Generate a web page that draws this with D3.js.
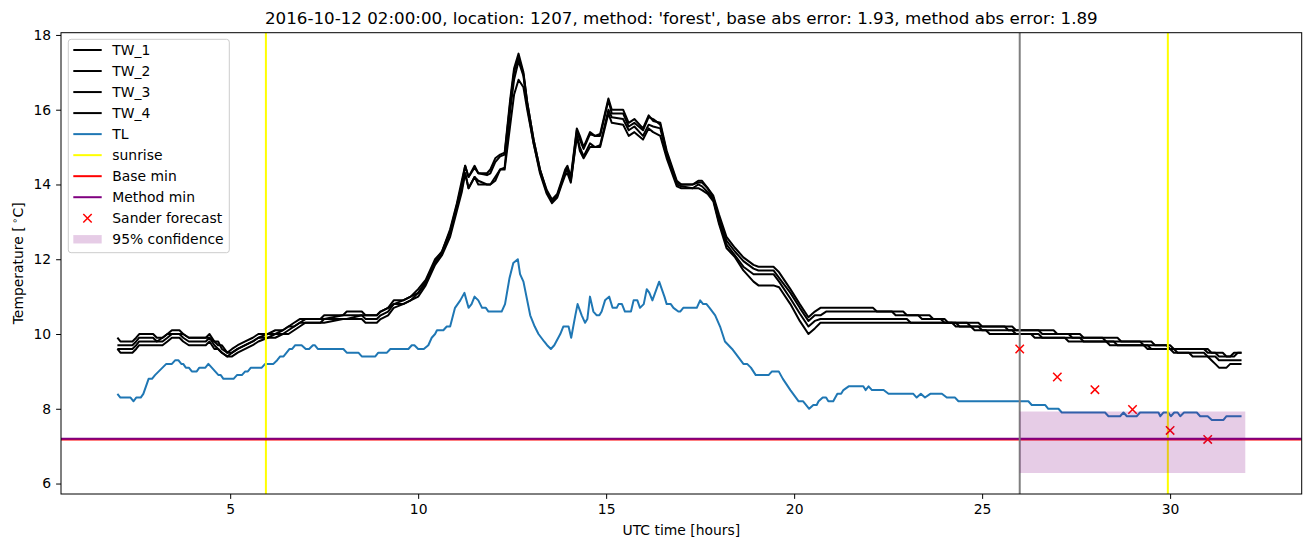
<!DOCTYPE html>
<html><head><meta charset="utf-8">
<script src="https://cdn.jsdelivr.net/npm/d3@7"></script>
<style>body{margin:0;background:#fff}svg{display:block}text{font-family:"DejaVu Sans",sans-serif;fill:#000}</style>
</head><body><svg id="c" width="1311" height="547"></svg>
<script>
const TITLE = "2016-10-12 02:00:00, location: 1207, method: 'forest', base abs error: 1.93, method abs error: 1.89";
const X_LABEL = "UTC time [hours]";
const X_TICKS = [5, 10, 15, 20, 25, 30];
const Y_TICKS = [6, 8, 10, 12, 14, 16, 18];

// [hour, °C]
const TW_1 = [[2.0,9.9],[2.08,9.8],[2.4,9.8],[2.5,9.9],[2.58,10.0],[2.95,10.0],[3.05,9.9],[3.2,9.9],[3.33,10.0],[3.45,10.1],[3.65,10.1],[3.75,10.0],[3.9,9.9],[4.35,9.9],[4.45,10.0],[4.58,9.8],[4.68,9.7],[4.78,9.7],[4.92,9.5],[5.05,9.6],[5.2,9.7],[5.4,9.8],[5.6,9.9],[5.75,10.0],[6.0,10.0],[6.2,10.1],[6.4,10.1],[6.55,10.2],[6.7,10.3],[6.85,10.4],[7.0,10.4],[7.4,10.4],[7.5,10.5],[8.0,10.5],[8.1,10.6],[8.5,10.6],[8.6,10.5],[8.9,10.5],[9.0,10.6],[9.2,10.7],[9.35,10.9],[9.6,10.9],[9.8,11.0],[10.0,11.2],[10.2,11.45],[10.45,12.0],[10.63,12.2],[10.85,12.8],[11.03,13.5],[11.16,14.1],[11.25,14.5],[11.34,14.2],[11.5,14.5],[11.6,14.3],[11.83,14.3],[11.92,14.4],[12.05,14.7],[12.18,14.8],[12.3,14.85],[12.45,16.3],[12.55,17.1],[12.67,17.5],[12.8,17.0],[12.9,16.2],[13.07,15.2],[13.24,14.4],[13.42,13.85],[13.56,13.6],[13.7,13.75],[13.8,14.05],[13.91,14.4],[13.97,14.5],[14.06,14.2],[14.22,15.5],[14.3,15.3],[14.4,15.0],[14.57,15.4],[14.7,15.3],[14.84,15.35],[15.06,16.3],[15.15,16.0],[15.45,16.0],[15.6,15.65],[15.75,15.75],[15.98,15.5],[16.13,15.85],[16.25,15.7],[16.44,15.65],[16.61,14.9],[16.88,14.1],[17.0,14.0],[17.3,14.0],[17.45,14.1],[17.55,14.1],[17.7,13.9],[17.85,13.7],[18.0,13.2],[18.2,12.6],[18.43,12.3],[18.65,12.05],[18.92,11.85],[19.05,11.8],[19.45,11.8],[19.6,11.65],[19.9,11.2],[20.15,10.8],[20.38,10.45],[20.55,10.6],[20.7,10.7],[22.1,10.7],[22.2,10.6],[22.9,10.6],[23.0,10.5],[23.6,10.5],[23.7,10.4],[24.0,10.4],[24.1,10.3],[24.6,10.3],[24.7,10.2],[25.6,10.2],[25.7,10.1],[26.5,10.1],[26.6,10.0],[27.6,10.0],[27.7,9.9],[28.6,9.9],[28.7,9.8],[29.5,9.8],[29.6,9.7],[29.9,9.7],[30.0,9.6],[31.0,9.6],[31.1,9.5],[31.4,9.5],[31.5,9.4],[31.7,9.4],[31.8,9.5],[31.9,9.5]];
const TW_2 = [[2.0,9.7],[2.08,9.7],[2.4,9.7],[2.5,9.8],[2.58,9.9],[2.95,9.9],[3.05,9.8],[3.2,9.9],[3.33,10.0],[3.45,10.0],[3.65,10.0],[3.75,10.0],[3.9,9.9],[4.35,9.9],[4.45,9.9],[4.58,9.8],[4.68,9.8],[4.78,9.6],[4.92,9.5],[5.05,9.5],[5.2,9.6],[5.4,9.7],[5.6,9.8],[5.75,9.9],[6.0,10.0],[6.2,10.0],[6.4,10.1],[6.55,10.2],[6.7,10.2],[6.85,10.3],[7.0,10.4],[7.4,10.4],[7.5,10.4],[8.0,10.5],[8.1,10.5],[8.5,10.5],[8.6,10.5],[8.9,10.5],[9.0,10.6],[9.2,10.7],[9.35,10.8],[9.6,10.9],[9.8,11.0],[10.0,11.1],[10.2,11.4],[10.45,11.95],[10.63,12.2],[10.85,12.75],[11.03,13.45],[11.16,14.0],[11.25,14.5],[11.34,14.2],[11.5,14.45],[11.6,14.3],[11.83,14.25],[11.92,14.3],[12.05,14.6],[12.18,14.75],[12.3,14.8],[12.45,16.2],[12.55,17.0],[12.67,17.4],[12.8,16.95],[12.9,16.2],[13.07,15.2],[13.24,14.4],[13.42,13.8],[13.56,13.55],[13.7,13.7],[13.8,14.0],[13.91,14.35],[13.97,14.45],[14.06,14.15],[14.22,15.45],[14.3,15.2],[14.4,14.95],[14.57,15.35],[14.7,15.3],[14.84,15.3],[15.06,16.25],[15.15,15.9],[15.45,15.9],[15.6,15.55],[15.75,15.65],[15.98,15.45],[16.13,15.8],[16.25,15.75],[16.44,15.6],[16.61,14.85],[16.88,14.05],[17.0,14.0],[17.3,14.0],[17.45,14.05],[17.55,14.05],[17.7,13.9],[17.85,13.65],[18.0,13.1],[18.2,12.5],[18.43,12.2],[18.65,11.95],[18.92,11.75],[19.05,11.7],[19.45,11.7],[19.6,11.5],[19.9,11.1],[20.15,10.7],[20.38,10.35],[20.55,10.5],[20.7,10.5],[20.85,10.6],[22.6,10.6],[22.7,10.5],[23.3,10.5],[23.4,10.4],[23.9,10.4],[24.0,10.3],[24.9,10.3],[25.0,10.2],[25.8,10.2],[25.9,10.1],[26.9,10.1],[27.0,10.0],[27.3,10.0],[27.4,9.9],[28.2,9.9],[28.3,9.8],[29.2,9.8],[29.3,9.7],[30.0,9.7],[30.1,9.6],[30.9,9.6],[31.0,9.5],[31.2,9.5],[31.3,9.4],[31.6,9.4],[31.7,9.5],[31.9,9.5]];
const TW_3 = [[2.0,9.6],[2.08,9.6],[2.4,9.6],[2.5,9.7],[2.58,9.8],[2.95,9.8],[3.05,9.8],[3.2,9.8],[3.33,9.9],[3.45,10.0],[3.65,10.0],[3.75,9.9],[3.9,9.8],[4.35,9.8],[4.45,9.9],[4.58,9.7],[4.68,9.6],[4.78,9.5],[4.92,9.4],[5.05,9.5],[5.2,9.6],[5.4,9.7],[5.6,9.8],[5.75,9.9],[6.0,9.9],[6.2,10.0],[6.4,10.0],[6.55,10.1],[6.7,10.2],[6.85,10.3],[7.0,10.3],[7.4,10.3],[7.5,10.4],[8.0,10.4],[8.1,10.4],[8.5,10.5],[8.6,10.4],[8.9,10.4],[9.0,10.5],[9.2,10.6],[9.35,10.8],[9.6,10.8],[9.8,10.9],[10.0,11.1],[10.2,11.35],[10.45,11.9],[10.63,12.15],[10.85,12.7],[11.03,13.4],[11.16,13.9],[11.25,14.3],[11.34,13.9],[11.5,14.2],[11.6,14.1],[11.83,14.0],[11.92,14.0],[12.05,14.2],[12.18,14.4],[12.3,14.45],[12.45,16.0],[12.55,16.8],[12.67,17.3],[12.8,16.9],[12.9,16.1],[13.07,15.1],[13.24,14.35],[13.42,13.8],[13.56,13.55],[13.7,13.7],[13.8,14.0],[13.91,14.3],[13.97,14.4],[14.06,14.1],[14.22,15.3],[14.3,15.0],[14.4,14.75],[14.57,15.1],[14.7,15.0],[14.84,15.05],[15.06,16.0],[15.15,15.8],[15.45,15.75],[15.6,15.45],[15.75,15.55],[15.98,15.3],[16.13,15.6],[16.25,15.55],[16.44,15.5],[16.61,14.8],[16.88,14.0],[17.0,13.95],[17.3,13.9],[17.45,14.0],[17.55,13.95],[17.7,13.8],[17.85,13.6],[18.0,13.0],[18.2,12.4],[18.43,12.1],[18.65,11.8],[18.92,11.6],[19.05,11.6],[19.45,11.6],[19.6,11.4],[19.9,10.95],[20.15,10.55],[20.38,10.2],[20.55,10.35],[20.7,10.4],[23.0,10.4],[23.1,10.3],[24.3,10.3],[24.4,10.2],[24.9,10.2],[25.0,10.1],[25.8,10.1],[25.9,10.0],[26.5,10.0],[26.6,9.9],[27.6,9.9],[27.7,9.8],[28.5,9.8],[28.6,9.7],[29.3,9.7],[29.4,9.6],[30.0,9.6],[30.1,9.5],[30.9,9.5],[31.0,9.4],[31.2,9.4],[31.3,9.3],[31.9,9.3]];
const TW_4 = [[2.0,9.6],[2.08,9.5],[2.4,9.5],[2.5,9.6],[2.58,9.7],[2.95,9.7],[3.05,9.7],[3.2,9.7],[3.33,9.8],[3.45,9.9],[3.65,9.9],[3.75,9.8],[3.9,9.7],[4.35,9.7],[4.45,9.8],[4.58,9.6],[4.68,9.6],[4.78,9.5],[4.92,9.4],[5.05,9.4],[5.2,9.5],[5.4,9.6],[5.6,9.7],[5.75,9.8],[6.0,9.9],[6.2,9.9],[6.4,10.0],[6.55,10.0],[6.7,10.1],[6.85,10.2],[7.0,10.3],[7.4,10.3],[7.5,10.3],[8.0,10.4],[8.1,10.4],[8.5,10.4],[8.6,10.3],[8.9,10.3],[9.0,10.4],[9.2,10.5],[9.35,10.7],[9.6,10.8],[9.8,10.9],[10.0,11.0],[10.2,11.3],[10.45,11.85],[10.63,12.1],[10.85,12.6],[11.03,13.3],[11.16,13.8],[11.25,14.3],[11.34,13.9],[11.5,14.2],[11.6,14.0],[11.83,14.0],[11.92,14.0],[12.05,14.1],[12.18,14.4],[12.3,14.4],[12.45,15.6],[12.55,16.4],[12.67,16.8],[12.8,16.6],[12.9,16.0],[13.07,15.1],[13.24,14.3],[13.42,13.75],[13.56,13.5],[13.7,13.65],[13.8,13.95],[13.91,14.25],[13.97,14.3],[14.06,14.05],[14.22,15.3],[14.3,14.9],[14.4,14.7],[14.57,15.0],[14.7,15.0],[14.84,15.0],[15.06,15.9],[15.15,15.65],[15.45,15.6],[15.6,15.3],[15.75,15.4],[15.98,15.2],[16.13,15.5],[16.25,15.4],[16.44,15.3],[16.61,14.7],[16.88,13.95],[17.0,13.9],[17.3,13.9],[17.45,13.9],[17.55,13.85],[17.7,13.75],[17.85,13.55],[18.0,12.95],[18.2,12.3],[18.43,12.05],[18.65,11.7],[18.92,11.4],[19.05,11.3],[19.45,11.3],[19.6,11.25],[19.9,10.8],[20.15,10.35],[20.38,10.0],[20.55,10.15],[20.7,10.3],[24.2,10.3],[24.3,10.2],[24.7,10.2],[24.8,10.1],[25.1,10.1],[25.2,10.0],[26.3,10.0],[26.4,9.9],[27.2,9.9],[27.3,9.8],[28.3,9.8],[28.4,9.7],[29.4,9.7],[29.5,9.6],[30.1,9.6],[30.2,9.5],[30.5,9.5],[30.6,9.4],[31.0,9.4],[31.1,9.3],[31.2,9.2],[31.3,9.1],[31.5,9.1],[31.6,9.2],[31.9,9.2]];
const TL = [[2.0,8.4],[2.08,8.3],[2.35,8.3],[2.43,8.2],[2.5,8.3],[2.62,8.3],[2.69,8.4],[2.83,8.8],[2.92,8.8],[3.0,8.9],[3.1,9.0],[3.2,9.1],[3.3,9.2],[3.45,9.2],[3.54,9.3],[3.62,9.3],[3.7,9.2],[3.75,9.2],[3.82,9.1],[3.9,9.1],[3.98,9.0],[4.11,9.0],[4.18,9.1],[4.34,9.1],[4.42,9.2],[4.51,9.1],[4.6,9.0],[4.69,8.9],[4.75,8.9],[4.82,8.8],[5.09,8.8],[5.18,8.9],[5.31,8.9],[5.4,9.0],[5.47,9.0],[5.55,9.1],[5.84,9.1],[5.93,9.2],[6.15,9.2],[6.25,9.3],[6.33,9.4],[6.42,9.4],[6.5,9.5],[6.58,9.6],[6.65,9.6],[6.73,9.7],[6.9,9.7],[7.01,9.6],[7.1,9.6],[7.2,9.7],[7.25,9.7],[7.33,9.6],[8.01,9.6],[8.1,9.5],[8.41,9.5],[8.5,9.4],[8.86,9.4],[8.94,9.5],[9.17,9.5],[9.26,9.6],[9.74,9.6],[9.83,9.7],[9.9,9.7],[10.0,9.6],[10.15,9.6],[10.27,9.7],[10.36,9.9],[10.45,10.0],[10.5,10.1],[10.67,10.1],[10.76,10.2],[10.85,10.2],[10.98,10.7],[11.12,10.9],[11.23,11.1],[11.34,10.7],[11.42,10.8],[11.5,11.0],[11.6,10.9],[11.7,10.7],[11.8,10.7],[11.87,10.6],[12.22,10.6],[12.31,10.8],[12.43,11.5],[12.53,11.9],[12.65,12.0],[12.71,11.6],[12.8,11.4],[12.98,10.5],[13.1,10.2],[13.2,10.0],[13.35,9.8],[13.43,9.7],[13.53,9.6],[13.62,9.7],[13.78,10.0],[13.86,10.2],[14.0,10.2],[14.07,9.9],[14.18,10.5],[14.24,10.8],[14.35,10.5],[14.44,10.3],[14.5,10.4],[14.57,11.0],[14.66,10.6],[14.75,10.5],[14.82,10.5],[14.88,10.6],[14.97,10.9],[15.08,11.0],[15.17,10.7],[15.28,10.7],[15.33,10.8],[15.42,10.8],[15.5,10.6],[15.66,10.6],[15.73,10.9],[15.83,10.9],[15.9,10.7],[16.0,10.8],[16.08,11.2],[16.15,11.1],[16.23,10.9],[16.41,11.4],[16.55,11.0],[16.61,10.8],[16.72,10.8],[16.79,10.7],[16.92,10.6],[16.97,10.6],[17.05,10.7],[17.41,10.7],[17.5,10.9],[17.58,10.8],[17.67,10.8],[17.75,10.7],[17.9,10.5],[18.03,10.2],[18.16,9.8],[18.35,9.6],[18.5,9.4],[18.65,9.2],[18.75,9.2],[18.85,9.1],[18.98,8.9],[19.32,8.9],[19.41,9.0],[19.59,9.0],[19.7,8.8],[19.9,8.5],[20.12,8.2],[20.24,8.2],[20.4,8.0],[20.51,8.1],[20.6,8.1],[20.65,8.2],[20.76,8.3],[20.85,8.3],[20.91,8.2],[21.04,8.2],[21.15,8.4],[21.25,8.4],[21.31,8.5],[21.45,8.6],[21.84,8.6],[21.9,8.5],[21.98,8.6],[22.07,8.5],[22.38,8.5],[22.51,8.4],[23.17,8.4],[23.26,8.3],[23.37,8.4],[23.48,8.3],[23.62,8.4],[23.93,8.4],[24.06,8.3],[24.28,8.3],[24.37,8.2],[26.23,8.2],[26.32,8.1],[26.68,8.1],[26.76,8.0],[27.03,8.0],[27.12,7.9],[28.27,7.9],[28.36,7.8],[28.67,7.8],[28.76,7.9],[28.85,7.8],[29.11,7.8],[29.2,7.9],[29.69,7.9],[29.74,7.8],[29.82,7.9],[29.95,7.9],[30.02,7.8],[30.11,7.9],[30.2,7.9],[30.27,7.8],[30.37,7.9],[30.71,7.9],[30.8,7.8],[31.0,7.8],[31.11,7.7],[31.42,7.7],[31.5,7.8],[31.9,7.8]];

const SUNRISE = [5.95, 29.94];
const FORECAST_START = 26;
const BASE_MIN = 7.18;
const METHOD_MIN = 7.2;
const SANDER_HOURS = [26, 27, 28, 29, 30, 31];
const SANDER_VALUES = [9.6, 8.85, 8.51, 7.98, 7.42, 7.18];
const CONF_HOURS = [26, 32];
const CONF_LOW = [6.28, 6.28];
const CONF_HIGH = [7.93, 7.93];
const LEGEND = ["TW_1","TW_2","TW_3","TW_4","TL","sunrise","Base min","Method min","Sander forecast","95% confidence"];

const svg = d3.select("#c");
const L = 61, R = 1301.7, T = 32.7, B = 494;
const x = d3.scaleLinear([0.5, 33.5], [L, R]);
const y = d3.scaleLinear([5.72, 18.06], [B, T]);
const FS = 13.9;

svg.append("defs").append("clipPath").attr("id","clip")
  .append("rect").attr("x",L).attr("y",T).attr("width",R-L).attr("height",B-T);
const plot = svg.append("g").attr("clip-path","url(#clip)");
const line = d3.line().x(d => x(d[0])).y(d => y(d[1]));

[TW_1, TW_2, TW_3, TW_4].forEach(s => {
  plot.append("path").attr("d", line(s)).attr("fill","none").attr("stroke","#000")
    .attr("stroke-width",2).attr("stroke-linejoin","round");
});
plot.append("path").attr("d", line(TL)).attr("fill","none").attr("stroke","#1f77b4")
  .attr("stroke-width",2).attr("stroke-linejoin","round");

SUNRISE.forEach(h => plot.append("line").attr("x1",x(h)).attr("x2",x(h)).attr("y1",T).attr("y2",B)
  .attr("stroke","#ffff00").attr("stroke-width",2));
plot.append("line").attr("x1",L).attr("x2",R).attr("y1",y(BASE_MIN)).attr("y2",y(BASE_MIN))
  .attr("stroke","#ff0000").attr("stroke-width",2);
plot.append("line").attr("x1",L).attr("x2",R).attr("y1",y(METHOD_MIN)).attr("y2",y(METHOD_MIN))
  .attr("stroke","#800080").attr("stroke-width",2);
plot.append("line").attr("x1",x(FORECAST_START)).attr("x2",x(FORECAST_START)).attr("y1",T).attr("y2",B)
  .attr("stroke","#808080").attr("stroke-width",2);

const cross = (g, cx, cy, r) => {
  g.append("path").attr("d",`M${cx-r},${cy-r}L${cx+r},${cy+r}M${cx-r},${cy+r}L${cx+r},${cy-r}`)
    .attr("stroke","#ff0000").attr("stroke-width",1.5).attr("fill","none");
};
SANDER_HOURS.forEach((h,i) => cross(plot, x(h), y(SANDER_VALUES[i]), 4.2));

const area = d3.area().x(d => x(d.h)).y0(d => y(d.lo)).y1(d => y(d.hi));
plot.append("path").attr("d", area(CONF_HOURS.map((h,i)=>({h, lo:CONF_LOW[i], hi:CONF_HIGH[i]}))))
  .attr("fill","#800080").attr("fill-opacity",0.2);

// frame
svg.append("rect").attr("x",L).attr("y",T).attr("width",R-L).attr("height",B-T)
  .attr("fill","none").attr("stroke","#000").attr("stroke-width",1);

// axes
const xa = svg.append("g").attr("transform",`translate(0,${B})`)
  .call(d3.axisBottom(x).tickValues(X_TICKS).tickFormat(d3.format("d")).tickSize(4.9).tickPadding(5.5));
const ya = svg.append("g").attr("transform",`translate(${L},0)`)
  .call(d3.axisLeft(y).tickValues(Y_TICKS).tickFormat(d3.format("d")).tickSize(4.9).tickPadding(4.9));
[xa, ya].forEach(a => {
  a.select(".domain").remove();
  a.selectAll(".tick line").attr("stroke","#000").attr("stroke-width",1);
  a.selectAll(".tick text").attr("font-family","DejaVu Sans").attr("font-size",FS).attr("fill","#000");
});

svg.append("text").attr("x",(L+R)/2).attr("y",24.4).attr("text-anchor","middle")
  .attr("font-size",16.7).text(TITLE);
svg.append("text").attr("x",(L+R)/2).attr("y",535).attr("text-anchor","middle")
  .attr("font-size",FS).text(X_LABEL);
const yl = svg.append("text").attr("transform",`translate(23,${(T+B)/2}) rotate(-90)`)
  .attr("text-anchor","middle").attr("font-size",FS);
yl.append("tspan").text("Temperature [\u2009");
yl.append("tspan").attr("dy",-5).attr("font-size",9.7).text("\u2218");
yl.append("tspan").attr("dy",5).text("C]");

// legend
const lg = svg.append("g");
lg.append("rect").attr("x",68.3).attr("y",39.3).attr("width",161).attr("height",213.4)
  .attr("rx",2.8).attr("fill","#fff").attr("fill-opacity",0.8).attr("stroke","#cccccc").attr("stroke-width",1);
const colors = ["#000","#000","#000","#000","#1f77b4","#ffff00","#ff0000","#800080"];
LEGEND.forEach((name,i) => {
  const cy = 50 + 21.03*i;
  if (i < 8) {
    lg.append("line").attr("x1",73.3).attr("x2",101.7).attr("y1",cy).attr("y2",cy)
      .attr("stroke",colors[i]).attr("stroke-width",2);
  } else if (i === 8) {
    cross(lg, 87.5, cy, 4.2);
  } else {
    lg.append("rect").attr("x",73.3).attr("y",cy-4.2).attr("width",28.4).attr("height",8.4)
      .attr("fill","#800080").attr("fill-opacity",0.2);
  }
  lg.append("text").attr("x",112.3).attr("y",cy+5).attr("font-size",FS).text(name);
});
</script></body></html>
